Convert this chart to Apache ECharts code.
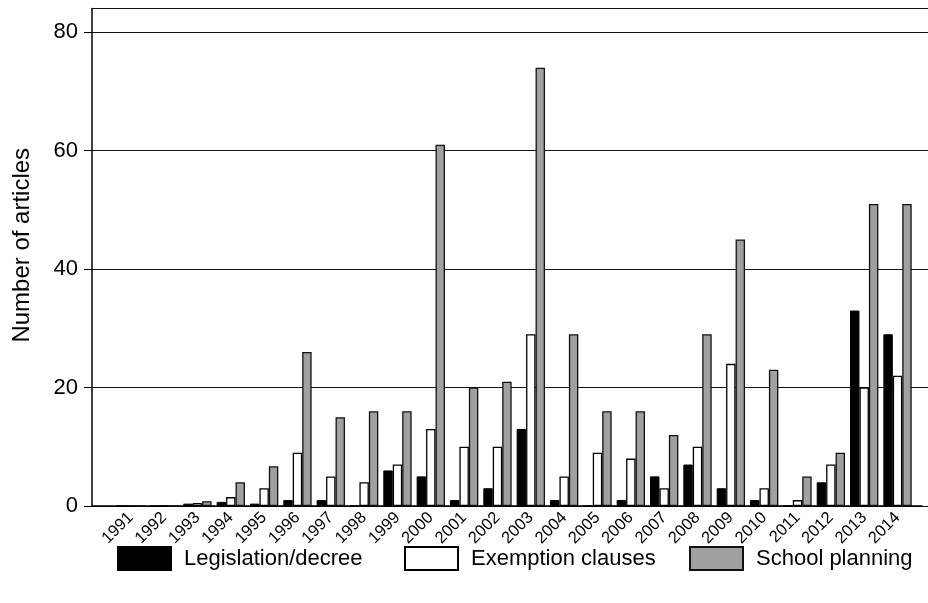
<!DOCTYPE html>
<html>
<head>
<meta charset="utf-8">
<script src="https://cdn.jsdelivr.net/npm/echarts@6/dist/echarts.min.js"></script>
<style>html,body{margin:0;padding:0;background:#fff}#c{width:928px;height:603px}</style>
</head>
<body>
<div id="c"></div>
<script>
const years = ['1991','1992','1993','1994','1995','1996','1997','1998','1999','2000','2001','2002','2003','2004','2005','2006','2007','2008','2009','2010','2011','2012','2013','2014'];
const legislation = [0,0,0.4,0.7,0.4,1,1,0,6,5,1,3,13,1,0,1,5,7,3,1,0,4,33,29];
const exemption   = [0,0,0.5,1.5,3,9,5,4,7,13,10,10,29,5,9,8,3,10,24,3,1,7,20,22];
const planning    = [0,0,0.8,4,6.7,26,15,16,16,61,20,21,74,29,16,16,12,29,45,23,5,9,51,51];
const yTicks = [0,20,40,60,80];
const yMax = 84;

const FONT = "'Liberation Sans', Arial, Helvetica, sans-serif";
const chart = echarts.init(document.getElementById('c'));
const gTop = 8.5, gBottom = 97;
const legendBase = {top: 541, icon: 'rect', itemWidth: 53, itemHeight: 23, textStyle: {fontFamily: FONT, fontSize: 22, color: '#000', padding: [0,0,0,8], lineHeight: 23}, selectedMode: false};
chart.setOption({
  animation: false,
  backgroundColor: '#fff',
  grid: [
    {left: 92, right: 0, top: gTop, bottom: gBottom},
    {left: 114.1, right: 13.8, top: gTop, bottom: gBottom},
    {left: 92, right: 6, top: gTop, bottom: gBottom}
  ],
  legend: [
    Object.assign({left: 112, data: ['Legislation/decree']}, legendBase),
    Object.assign({left: 399, data: ['Exemption clauses']}, legendBase),
    Object.assign({left: 684, data: ['School planning']}, legendBase)
  ],
  xAxis: [
    {gridIndex: 0, type: 'category', position: 'top', data: [''], axisLine: {show: true, onZero: false, lineStyle: {color: '#111', width: 1}}, axisTick: {show: false}, axisLabel: {show: false}, splitLine: {show: false}},
    {gridIndex: 1, type: 'category', data: years, axisLine: {show: false}, axisTick: {show: false},
     axisLabel: {rotate: 45, interval: 0, margin: 9, fontFamily: FONT, fontSize: 16.5, color: '#000'}, splitLine: {show: false}},
    {gridIndex: 2, type: 'category', data: [''], axisLine: {show: true, onZero: false, lineStyle: {color: '#000', width: 1.5}}, axisTick: {show: false}, axisLabel: {show: false}}
  ],
  yAxis: [
    {gridIndex: 0, type: 'value', min: 0, max: yMax, interval: 20,
     name: 'Number of articles', nameLocation: 'middle', nameGap: 58,
     nameTextStyle: {fontFamily: FONT, fontSize: 24, color: '#000', padding: [0,0,0,24]},
     axisLine: {show: true, lineStyle: {color: '#000', width: 1.5}},
     axisTick: {show: true, length: 8, customValues: yTicks, lineStyle: {color: '#000', width: 1}},
     axisLabel: {customValues: yTicks, margin: 14, fontFamily: FONT, fontSize: 22, color: '#000'},
     splitLine: {show: true, lineStyle: {color: '#111', width: 1}}},
    {gridIndex: 1, type: 'value', min: 0, max: yMax, show: false, splitLine: {show: false}},
    {gridIndex: 2, type: 'value', min: 0, max: yMax, show: false, splitLine: {show: false}}
  ],
  series: [
    {name: 'Legislation/decree', type: 'bar', xAxisIndex: 1, yAxisIndex: 1, data: legislation,
     barGap: '0%', barCategoryGap: '15%', itemStyle: {color: '#000', borderColor: '#000', borderWidth: 1}},
    {name: 'Exemption clauses', type: 'bar', xAxisIndex: 1, yAxisIndex: 1, data: exemption,
     barGap: '0%', barCategoryGap: '15%', itemStyle: {color: '#fff', borderColor: '#000', borderWidth: 1.3}},
    {name: 'School planning', type: 'bar', xAxisIndex: 1, yAxisIndex: 1, data: planning,
     barGap: '0%', barCategoryGap: '15%', itemStyle: {color: '#a0a0a0', borderColor: '#111', borderWidth: 1.3}}
  ]
});
</script>
</body>
</html>
